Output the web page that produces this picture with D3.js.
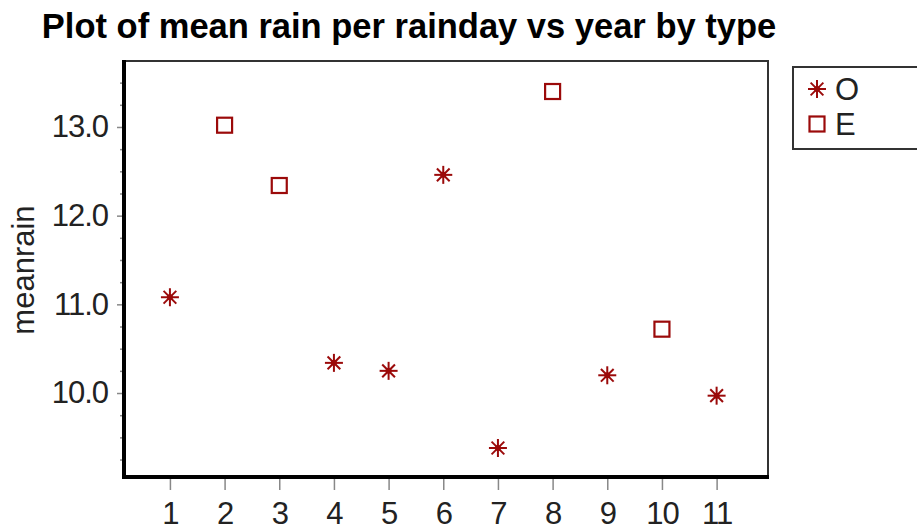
<!DOCTYPE html>
<html>
<head>
<meta charset="utf-8">
<script src="https://cdn.jsdelivr.net/npm/d3@7"></script>
<style>
  body { margin: 0; background: #fff; }
  text { font-family: "Liberation Sans", Arial, sans-serif; }
</style>
</head>
<body>
<div id="chart"></div>
<script>
// data
const years = [1, 2, 3, 4, 5, 6, 7, 8, 9, 10, 11];
const types = ['O', 'E', 'E', 'O', 'O', 'O', 'O', 'E', 'O', 'E', 'O'];
const meanRain = [11.08, 13.02, 12.34, 10.34, 10.25, 12.46, 9.38, 13.40, 10.20, 10.72, 9.97];
const yTicks = [10, 11, 12, 13];
const yMinorTicks = [9.25, 9.5, 9.75, 10.25, 10.5, 10.75, 11.25, 11.5, 11.75, 12.25, 12.5, 12.75, 13.25, 13.5];
const legendTypes = ['O', 'E'];

const width = 917;
const height = 530;
const red = '#9b0a0a';
const labelSize = '31px';

const svg = d3.select('#chart')
    .append('svg')
    .attr('width', width)
    .attr('height', height);

const plot = { left: 124, right: 768, top: 61, bottom: 477 };

const xScale = d3.scaleLinear()
    .domain([0.16, 11.94])
    .range([plot.left, plot.right]);
const yScale = d3.scaleLinear()
    .domain([9.053, 13.744])
    .range([plot.bottom, plot.top]);

// title
svg.append('text')
    .attr('x', 409)
    .attr('y', 38)
    .attr('text-anchor', 'middle')
    .style('font-size', '34.5px')
    .style('font-weight', 'bold')
    .attr('fill', '#000')
    .text('Plot of mean rain per rainday vs year by type');

// frame
svg.append('rect')
    .attr('x', plot.left)
    .attr('y', plot.top)
    .attr('width', plot.right - plot.left)
    .attr('height', plot.bottom - plot.top)
    .attr('fill', 'none')
    .attr('stroke', '#333')
    .attr('stroke-width', 2);

// axes
const yAxis = d3.axisLeft(yScale)
    .tickValues(yTicks)
    .tickFormat(d3.format('.1f'))
    .tickSize(7)
    .tickPadding(9);
const yMinor = d3.axisLeft(yScale)
    .tickValues(yMinorTicks)
    .tickFormat('')
    .tickSize(4);
const xAxis = d3.axisBottom(xScale)
    .tickValues(years)
    .tickFormat(d3.format('d'))
    .tickSize(13)
    .tickPadding(12);

[
  svg.append('g').attr('transform', `translate(${plot.left},0)`).call(yMinor),
  svg.append('g').attr('transform', `translate(${plot.left},0)`).call(yAxis),
  svg.append('g').attr('transform', `translate(0,${plot.bottom})`).call(xAxis)
].forEach(g => {
  g.select('.domain').remove();
  g.selectAll('line').attr('stroke', '#888').attr('stroke-width', 1.5);
  g.selectAll('text')
      .attr('fill', '#222')
      .style('font-size', labelSize)
      .style('letter-spacing', '-1px')
      .style('font-family', '"Liberation Sans", Arial, sans-serif');
});

// thick left and bottom axis lines
svg.append('line')
    .attr('x1', plot.left).attr('x2', plot.left)
    .attr('y1', plot.top - 1).attr('y2', plot.bottom + 2)
    .attr('stroke', '#000')
    .attr('stroke-width', 4);
svg.append('line')
    .attr('x1', plot.left - 2).attr('x2', plot.right + 1)
    .attr('y1', plot.bottom).attr('y2', plot.bottom)
    .attr('stroke', '#000')
    .attr('stroke-width', 4);

// y axis label
svg.append('text')
    .attr('transform', `translate(34, 270) rotate(-90)`)
    .attr('text-anchor', 'middle')
    .attr('fill', '#222')
    .style('font-size', labelSize)
    .text('meanrain');

// markers
function asterisk(g, r) {
  const arms = [0, 45, 90, 135];
  arms.forEach(a => {
    const rad = a * Math.PI / 180;
    g.append('line')
        .attr('x1', -r * Math.cos(rad)).attr('y1', -r * Math.sin(rad))
        .attr('x2', r * Math.cos(rad)).attr('y2', r * Math.sin(rad))
        .attr('stroke', red)
        .attr('stroke-width', 2);
  });
  g.append('circle').attr('r', 3).attr('fill', red);
}
function square(g, s) {
  g.append('rect')
      .attr('x', -s / 2).attr('y', -s / 2)
      .attr('width', s).attr('height', s)
      .attr('fill', 'none')
      .attr('stroke', red)
      .attr('stroke-width', 2.2);
}
function marker(g, type) {
  if (type === 'O') asterisk(g, 9);
  else square(g, 15);
}

svg.selectAll('.point')
    .data(years.map((y, i) => ({ year: y, type: types[i], rain: meanRain[i] })))
    .enter()
    .append('g')
    .classed('point', true)
    .attr('transform', d => `translate(${xScale(d.year)},${yScale(d.rain)})`)
    .each(function (d) { marker(d3.select(this), d.type); });

// legend
const legend = svg.append('g').attr('transform', 'translate(793,67)');
legend.append('rect')
    .attr('width', 140)
    .attr('height', 82)
    .attr('fill', '#fff')
    .attr('stroke', '#333')
    .attr('stroke-width', 2);
legendTypes.forEach((t, i) => {
  const row = legend.append('g').attr('transform', `translate(24,${22 + i * 35})`);
  marker(row, t);
  row.append('text')
      .attr('x', 18)
      .attr('y', 11)
      .attr('fill', '#222')
      .style('font-size', labelSize)
      .text(t);
});
</script>
</body>
</html>
